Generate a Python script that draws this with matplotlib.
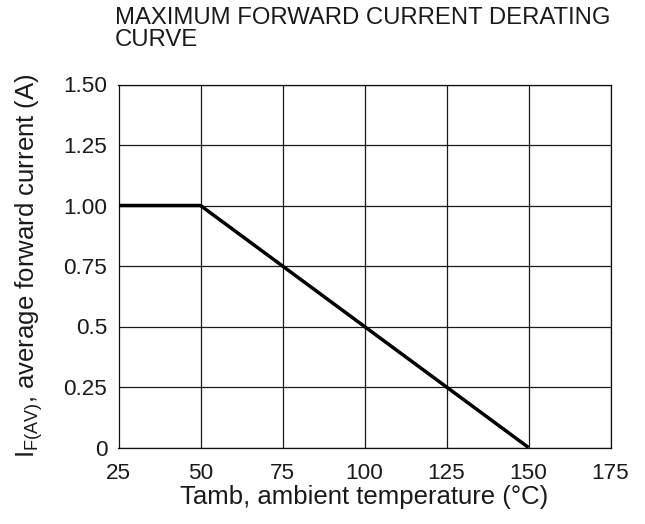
import matplotlib
matplotlib.use("Agg")
import matplotlib.pyplot as plt

plt.rcParams['font.family'] = ['Liberation Sans', 'DejaVu Sans']
plt.rcParams['mathtext.default'] = 'regular'

temperature = [25, 50, 150]
current = [1.0, 1.0, 0.0]
x_ticks = [25, 50, 75, 100, 125, 150, 175]
y_ticks = [0, 0.25, 0.5, 0.75, 1.0, 1.25, 1.5]
y_tick_labels = ["0", "0.25", "0.5", "0.75", "1.00", "1.25", "1.50"]
title = "MAXIMUM FORWARD CURRENT DERATING\nCURVE"
x_label = "Tamb, ambient temperature (°C)"
y_label = r"I$_{F(AV)}$, average forward current (A)"

fig = plt.figure(figsize=(6.45, 5.24), dpi=100)
ax = fig.add_axes([118.5/645, 1-447.5/524, (610.5-118.5)/645, (447.5-84.5)/524])

ax.set_xlim(25, 175)
ax.set_ylim(0, 1.5)
ax.set_xticks(x_ticks)
ax.set_xticklabels([str(t) for t in x_ticks])
ax.set_yticks(y_ticks)
ax.set_yticklabels(y_tick_labels)
ax.grid(True, color='#1a1a1a', linewidth=0.9)
ax.set_axisbelow(True)
for s in ax.spines.values():
    s.set_color('#111111')
    s.set_linewidth(0.9)
ax.tick_params(length=0, labelsize=16.2, colors='#1a1a1a')
ax.tick_params(axis='x', pad=11)
ax.tick_params(axis='y', pad=8)

ax.plot(temperature, current, color='black', linewidth=2.5, solid_capstyle='butt', zorder=3)

ax.set_xlabel(x_label, fontsize=18.5, color='#1a1a1a', labelpad=1)
ax.set_ylabel(y_label, fontsize=18.5, color='#1a1a1a', labelpad=13)

fig.text(115/645, 1-7/524, title, ha='left', va='top', fontsize=17.2,
         color='#1a1a1a', linespacing=1.0)

fig.savefig("out.png", dpi=100)
